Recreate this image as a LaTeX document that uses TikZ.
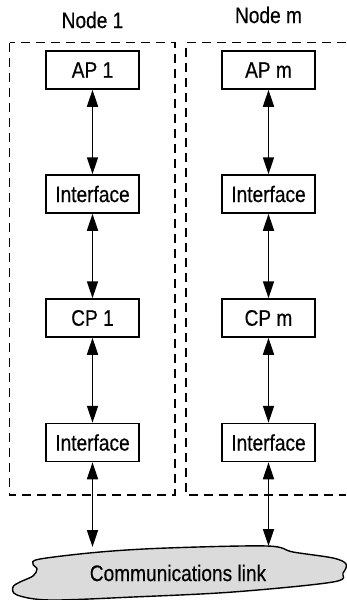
\documentclass[tikz,border=0pt]{standalone}
\usepackage{fontspec}
\setmainfont[FakeStretch=0.85,FakeBold=0.4]{Liberation Sans}
\usetikzlibrary{arrows.meta}
\begin{document}
\begin{tikzpicture}[x=1pt,y=-1pt,
  font=\fontsize{22.5}{26}\selectfont,
  blk/.style={draw,line width=1.5pt,minimum width=93pt,minimum height=38pt,inner sep=0pt},
  lnk/.style={line width=1.6pt,{Triangle[width=11pt,length=17pt]}-{Triangle[width=11pt,length=17pt]}},
  grp/.style={line width=1.4pt,dash pattern=on 9pt off 6pt}]
\useasboundingbox (0,0) rectangle (346,600);
% group frames
\draw[grp] (9.5,42.7) rectangle (175,495);
\draw[grp] (346,42.7) -- (186,42.7) -- (186,495) -- (346,495);
% titles
\node (t1) at (92.5,20) {Node 1};
\node (tm) at (268.5,15) {Node m};
% blocks
\node[blk] (ap1) at (92.5,70) {AP 1};
\node[blk] (if1) at (92.5,194) {Interface};
\node[blk] (cp1) at (92.5,318) {CP 1};
\node[blk] (ib1) at (92.5,442.5) {Interface};
\node[blk] (apm) at (268.5,70) {AP m};
\node[blk] (ifm) at (268.5,194) {Interface};
\node[blk] (cpm) at (268.5,318) {CP m};
\node[blk] (ibm) at (268.5,442.5) {Interface};
% cloud
\draw[line width=1.4pt,fill=gray!28]
  plot[smooth cycle,tension=0.55] coordinates {
   (40,559) (100,552) (167,548) (267,546) (293,552) (333,558) (346,564)
   (343,573) (333,582) (233,592) (133,597) (50,600) (17,595) (13,587)
   (20,582) (33,576) (37,569) (33,564)};
\node (cloud) at (178,573) {Communications link};
\coordinate (c1) at (92.5,547);
\coordinate (cm) at (268.5,546);
% connectors
\draw[lnk] (ap1) -- (if1);
\draw[lnk] (if1) -- (cp1);
\draw[lnk] (cp1) -- (ib1);
\draw[lnk] (ib1) -- (c1);
\draw[lnk] (apm) -- (ifm);
\draw[lnk] (ifm) -- (cpm);
\draw[lnk] (cpm) -- (ibm);
\draw[lnk] (ibm) -- (cm);
\end{tikzpicture}
\end{document}
